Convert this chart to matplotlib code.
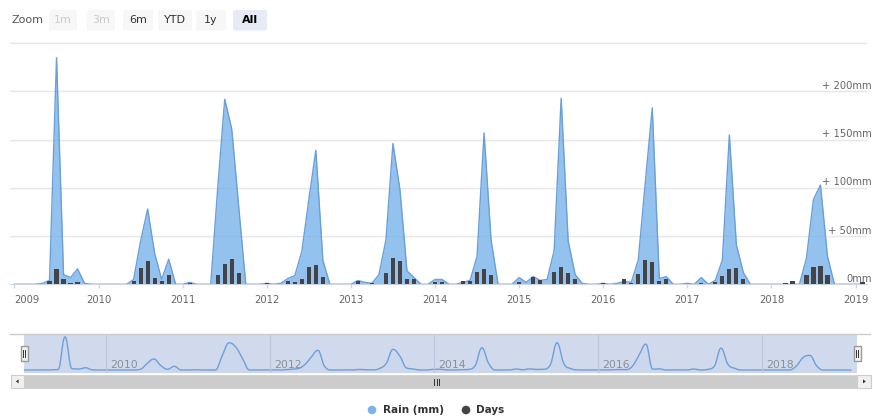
import numpy as np
import matplotlib
matplotlib.use('Agg')
import matplotlib.pyplot as plt
from matplotlib.patches import Rectangle, FancyBboxPatch, Circle, Polygon

W, H = 873, 419

# monthly rainfall (mm), Jan..Dec
rain_2009 = [0, 0, 0, 0, 1, 4, 235, 10, 7, 16, 1, 0]
rain_2010 = [0, 0, 0, 0, 0, 5, 45, 78, 32, 5, 26, 0]
rain_2011 = [0, 2, 0, 0, 0, 100, 192, 161, 80, 0, 0, 0]
rain_2012 = [1, 0, 1, 6, 9, 34, 88, 139, 25, 0, 0, 0]
rain_2013 = [0, 4, 2, 1, 10, 46, 146, 98, 14, 7, 0, 0]
rain_2014 = [5, 5, 0, 0, 2, 4, 29, 157, 46, 0, 0, 0]
rain_2015 = [7, 2, 8, 4, 5, 35, 193, 45, 10, 1, 0, 0]
rain_2016 = [1, 0, 1, 3, 2, 25, 105, 183, 6, 8, 0, 0]
rain_2017 = [1, 0, 7, 0, 4, 25, 155, 41, 12, 0, 0, 0]
rain_2018 = [0, 0, 0, 0, 0, 27, 88, 103, 29, 0, 0, 0]
rain_2019 = [0, 0]

# rainy days per month
days_2009 = [0, 0, 0, 0, 0, 3, 16, 6, 1, 2, 0, 0]
days_2010 = [0, 0, 0, 0, 0, 3, 17, 24, 7, 3, 10, 0]
days_2011 = [0, 1, 0, 0, 0, 10, 21, 26, 12, 0, 0, 0]
days_2012 = [1, 0, 0, 3, 2, 6, 18, 20, 8, 0, 0, 0]
days_2013 = [0, 3, 0, 1, 0, 12, 27, 24, 5, 5, 0, 0]
days_2014 = [2, 2, 0, 0, 3, 3, 13, 16, 10, 0, 0, 0]
days_2015 = [2, 0, 8, 4, 0, 13, 18, 12, 6, 0, 0, 0]
days_2016 = [1, 0, 0, 5, 1, 11, 25, 23, 3, 5, 0, 0]
days_2017 = [0, 0, 1, 0, 2, 9, 16, 17, 5, 0, 0, 0]
days_2018 = [0, 0, 1, 3, 0, 10, 18, 19, 10, 0, 0, 0]
days_2019 = [0, 2]

years = list(range(2009, 2020))
nav_years = [2010, 2012, 2014, 2016, 2018]
y_ticks = [0, 50, 100, 150, 200]
buttons = ['1m', '3m', '6m', 'YTD', '1y', 'All']

rain = np.array(rain_2009 + rain_2010 + rain_2011 + rain_2012 + rain_2013 + rain_2014
                + rain_2015 + rain_2016 + rain_2017 + rain_2018 + rain_2019, float)
days = np.array(days_2009 + days_2010 + days_2011 + days_2012 + days_2013 + days_2014
                + days_2015 + days_2016 + days_2017 + days_2018 + days_2019, float)
months = np.arange(len(rain))

RAIN_C = '#7cb5ec'
DAYS_C = '#434348'


def px_rect(x0, y0, x1, y1):
    return [x0 / W, 1 - y1 / H, (x1 - x0) / W, (y1 - y0) / H]


def hc_spline(xs, ys, steps=12):
    # bezier path like the highcharts spline renderer
    xs = np.asarray(xs, float)
    ys = np.asarray(ys, float)
    n = len(xs)
    lc = np.zeros((n, 2))
    rc = np.zeros((n, 2))
    for i in range(n):
        x, y = xs[i], ys[i]
        lcx, lcy, rcx, rcy = x, y, x, y
        if 0 < i < n - 1:
            lx, ly, nx, ny = xs[i - 1], ys[i - 1], xs[i + 1], ys[i + 1]
            lcx, lcy = (1.5 * x + lx) / 2.5, (1.5 * y + ly) / 2.5
            rcx, rcy = (1.5 * x + nx) / 2.5, (1.5 * y + ny) / 2.5
            corr = (rcy - lcy) * (rcx - x) / (rcx - lcx) + y - rcy
            lcy += corr
            rcy += corr
            if lcy > ly and lcy > y:
                lcy = max(ly, y); rcy = 2 * y - lcy
            elif lcy < ly and lcy < y:
                lcy = min(ly, y); rcy = 2 * y - lcy
            if rcy > ny and rcy > y:
                rcy = max(ny, y); lcy = 2 * y - rcy
            elif rcy < ny and rcy < y:
                rcy = min(ny, y); lcy = 2 * y - rcy
        lc[i] = lcx, lcy
        rc[i] = rcx, rcy
    t = np.linspace(0, 1, steps)[:, None]
    out = [np.array([[xs[0], ys[0]]])]
    for i in range(1, n):
        p0 = np.array([xs[i - 1], ys[i - 1]])
        p3 = np.array([xs[i], ys[i]])
        seg = ((1 - t) ** 3 * p0 + 3 * (1 - t) ** 2 * t * rc[i - 1]
               + 3 * (1 - t) * t ** 2 * lc[i] + t ** 3 * p3)
        out.append(seg[1:])
    pts = np.vstack(out)
    return pts[:, 0], pts[:, 1]


fig = plt.figure(figsize=(W / 100, H / 100), dpi=100)
fig.patch.set_facecolor('white')

# main chart
ax = fig.add_axes(px_rect(10, 42.3, 867, 284.3))
ax.set_xlim(-0.64, len(rain) - 1 + 0.64)
ax.set_ylim(0, 251)
ax.set_axisbelow(True)
ax.fill_between(months, rain, color=RAIN_C, alpha=0.82, lw=0, zorder=2)
ax.plot(months, rain, color='#6a9fd8', lw=1, zorder=2.5)
ax.bar(months, days, width=0.6, color=DAYS_C, zorder=3)

ax.set_yticks([0, 50, 100, 150, 200, 250])
ax.yaxis.grid(True, color='#e6e6e6', lw=1)
ax.tick_params(axis='y', length=0, labelleft=False)
for s in ['top', 'left', 'right']:
    ax.spines[s].set_visible(False)
ax.spines['bottom'].set_color('#ccd6eb')
ax.set_xticks([12 * i for i in range(len(years))])
ax.set_xticklabels([str(y) for y in years])
ax.tick_params(axis='x', length=3, width=1, color='#ccd6eb', labelcolor='#666666',
               labelsize=7.2, pad=4.8)
ax.get_xticklabels()[0].set_horizontalalignment('left')

# navigator
nav = fig.add_axes(px_rect(24, 334.3, 857, 373.3))
nav.set_facecolor('#d1daed')
nav.set_xlim(0, 121.9)
nav.set_ylim(-23.3, 252)
sx, sy = hc_spline(months, rain)
nav.fill_between(sx, sy, -23.3, color=RAIN_C, alpha=0.08, lw=0)
nav.plot(sx, sy, color='#6f9fd8', lw=1)
for yr in nav_years:
    m = (yr - 2009) * 12
    nav.axvline(m, color='#bcc5d9', lw=0.9)
    nav.annotate(str(yr), (m, -23.3), xytext=(3, 2.2), textcoords='offset points',
                 ha='left', va='bottom', color='#8a8f99', fontsize=7.8)
nav.set_xticks([])
nav.set_yticks([])
for s in nav.spines.values():
    s.set_visible(False)

# overlay for the widgets drawn in pixel space
ov = fig.add_axes([0, 0, 1, 1], zorder=10)
ov.set_xlim(0, W)
ov.set_ylim(H, 0)
ov.axis('off')
ov.patch.set_alpha(0)

# y axis labels on the right
for v in y_ticks:
    ypx = 284.3 - v * 0.964 - 5.6
    lab = '0mm' if v == 0 else f'+ {v}mm'
    ov.text(871.5, ypx, lab, ha='right', va='center', color='#666666', fontsize=7.2)

# range selector
ov.text(12, 20.3, 'Zoom', ha='left', va='center', color='#555555', fontsize=8)
btn_x = [49, 87, 123, 158, 196, 233]
btn_w = [28, 28, 30, 34, 30, 34]
for lab, bx, bw in zip(buttons, btn_x, btn_w):
    if lab == 'All':
        fc, tc, fw = '#e6ebf5', '#000000', 'bold'
    elif lab in ('1m', '3m'):
        fc, tc, fw = '#f7f7f7', '#cccccc', 'normal'
    else:
        fc, tc, fw = '#f7f7f7', '#333333', 'normal'
    ov.add_patch(FancyBboxPatch((bx, 10), bw, 20.5, boxstyle='round,pad=0,rounding_size=2',
                                fc=fc, ec='none'))
    ov.text(bx + bw / 2, 20.3, lab, ha='center', va='center', color=tc,
            fontsize=8, fontweight=fw)

# navigator outline + handles
ov.plot([10, 870], [334.3, 334.3], color='#cccccc', lw=1)
for hx in (20.5, 853.5):
    ov.add_patch(Rectangle((hx, 345.5), 7, 15, fc='#f2f2f2', ec='#999999', lw=1))
    for lx in (hx + 2.7, hx + 4.3):
        ov.plot([lx, lx], [349.5, 356.5], color='#333333', lw=0.7)

# scrollbar
ov.add_patch(Rectangle((24, 374.5), 833, 13.8, fc='#cccccc', ec='#cccccc', lw=0.5))
ov.add_patch(Rectangle((10.5, 374.5), 13.5, 13.8, fc='#f0f0f0', ec='#cccccc', lw=0.8))
ov.add_patch(Rectangle((857, 374.5), 13.5, 13.8, fc='#f0f0f0', ec='#cccccc', lw=0.8))
ov.add_patch(Polygon([(15.8, 381.4), (18.6, 379.4), (18.6, 383.4)], closed=True,
                     fc='#333333', ec='none'))
ov.add_patch(Polygon([(865.8, 381.4), (863, 379.4), (863, 383.4)], closed=True,
                     fc='#333333', ec='none'))
for lx in (434, 436.5, 439):
    ov.plot([lx, lx], [378.5, 384.5], color='#333333', lw=0.7)

# legend
ov.add_patch(Circle((372, 410), 4.3, fc=RAIN_C, ec='none'))
ov.text(383, 410, 'Rain (mm)', ha='left', va='center', color='#333333',
        fontsize=7.5, fontweight='bold')
ov.add_patch(Circle((466, 410), 4.3, fc=DAYS_C, ec='none'))
ov.text(476, 410, 'Days', ha='left', va='center', color='#333333',
        fontsize=7.5, fontweight='bold')

fig.savefig('out.png', dpi=100)
